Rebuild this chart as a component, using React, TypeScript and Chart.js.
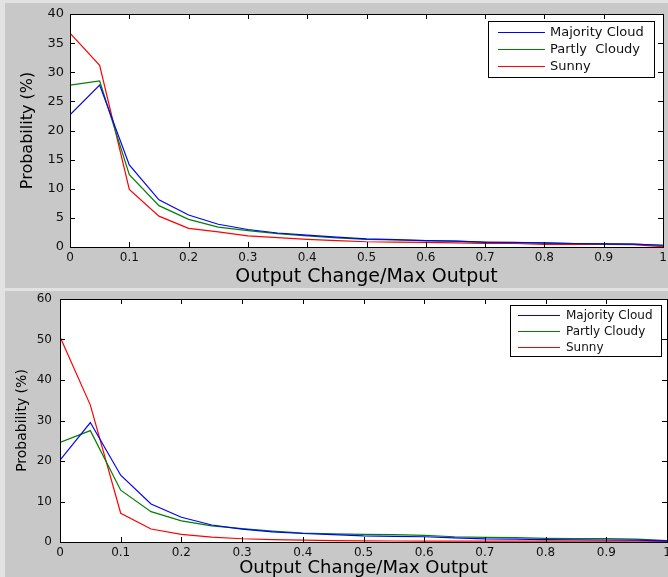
import React, { useEffect, useRef } from "react";
import { Chart, registerables } from "chart.js";

Chart.register(...registerables);

// ---------- data ----------
const xValues = [0, 0.05, 0.1, 0.15, 0.2, 0.25, 0.3, 0.35, 0.4, 0.45, 0.5, 0.55, 0.6, 0.65, 0.7, 0.75, 0.8, 0.85, 0.9, 0.95, 1];

const seriesLabelsTop = ["Majority Cloud", "Partly  Cloudy", "Sunny"];
const seriesLabelsBottom = ["Majority Cloud", "Partly Cloudy", "Sunny"];

const topMajorityCloud = [22.7, 27.8, 14.1, 8.1, 5.5, 3.9, 3.0, 2.4, 2.05, 1.7, 1.4, 1.25, 1.1, 1.0, 0.85, 0.8, 0.65, 0.6, 0.55, 0.5, 0.3];
const topPartlyCloudy = [27.8, 28.5, 12.4, 7.1, 4.75, 3.4, 2.8, 2.3, 1.9, 1.55, 1.3, 1.2, 1.1, 1.0, 0.8, 0.75, 0.75, 0.6, 0.55, 0.5, 0.3];
const topSunny = [36.7, 31.2, 9.9, 5.3, 3.2, 2.6, 1.9, 1.6, 1.3, 1.1, 0.9, 0.85, 0.8, 0.7, 0.63, 0.6, 0.46, 0.46, 0.46, 0.4, 0.05];

const bottomMajorityCloud = [20.2, 29.5, 16.5, 9.4, 6.1, 4.2, 3.2, 2.5, 2.1, 1.8, 1.5, 1.4, 1.3, 1.0, 0.75, 0.7, 0.57, 0.55, 0.5, 0.45, 0.3];
const bottomPartlyCloudy = [24.6, 27.5, 12.8, 7.5, 5.2, 4.0, 3.3, 2.7, 2.2, 2.0, 1.9, 1.8, 1.65, 1.3, 1.15, 1.1, 0.9, 0.85, 0.85, 0.7, 0.35];
const bottomSunny = [50.7, 33.8, 7.1, 3.2, 1.9, 1.2, 0.8, 0.6, 0.45, 0.35, 0.3, 0.25, 0.2, 0.2, 0.2, 0.2, 0.2, 0.2, 0.2, 0.2, 0.15];

const xAxisTitle = "Output Change/Max Output";
const yAxisTitle = "Probability (%)";

const seriesColors = ["rgb(0,0,255)", "rgb(0,128,0)", "rgb(255,0,0)"];
const FONT = '"DejaVu Sans", "Liberation Sans", sans-serif';

const tickFormat = (v: any) => String(parseFloat(Number(v).toFixed(2)));

// ---------- decoration plugin: white plot area, inward ticks, frame, boxed legend ----------
const matlabLook = {
  id: "matlabLook",
  beforeDraw(chart: any) {
    const ctx = chart.ctx;
    const a = chart.chartArea;
    ctx.save();
    ctx.fillStyle = "rgb(255,255,255)";
    ctx.fillRect(a.left, a.top, a.right - a.left, a.bottom - a.top);
    ctx.restore();
  },
  afterDatasetsDraw(chart: any) {
    const ctx = chart.ctx;
    const { left, right, top, bottom } = chart.chartArea;
    const xs = chart.scales.x;
    const ys = chart.scales.y;
    const len = 5;
    ctx.save();
    ctx.strokeStyle = "#000";
    ctx.lineWidth = 1;
    ctx.beginPath();
    xs.ticks.forEach((t: any) => {
      const px = Math.round(xs.getPixelForValue(t.value)) + 0.5;
      ctx.moveTo(px, bottom);
      ctx.lineTo(px, bottom - len);
      ctx.moveTo(px, top);
      ctx.lineTo(px, top + len);
    });
    ys.ticks.forEach((t: any) => {
      const py = Math.round(ys.getPixelForValue(t.value)) + 0.5;
      ctx.moveTo(left, py);
      ctx.lineTo(left + len, py);
      ctx.moveTo(right, py);
      ctx.lineTo(right - len, py);
    });
    ctx.stroke();
    ctx.strokeRect(Math.round(left) + 0.5, Math.round(top) + 0.5, Math.round(right - left), Math.round(bottom - top));
    ctx.restore();

    const opts = chart.options.plugins.boxLegend;
    if (!opts) return;
    const ds = chart.data.datasets;
    ctx.save();
    ctx.font = `${opts.fontSize}px ${FONT}`;
    const textW = Math.max(...ds.map((d: any) => ctx.measureText(d.label).width));
    const w = Math.round(opts.padLeft + opts.lineLen + opts.gap + textW + opts.padRight);
    const h = Math.round(opts.padTop + opts.rowH * (ds.length - 1) + opts.padBottom);
    const x = Math.round(right - opts.marginRight - w);
    const y = Math.round(top + opts.marginTop);
    ctx.fillStyle = "rgb(255,255,255)";
    ctx.fillRect(x, y, w, h);
    ctx.strokeStyle = "#000000";
    ctx.lineWidth = 1;
    ctx.strokeRect(x + 0.5, y + 0.5, w, h);
    for (let i = 0; i < ds.length; i++) {
      const cy = Math.round(y + opts.padTop + i * opts.rowH);
      ctx.fillStyle = ds[i].borderColor;
      ctx.fillRect(x + opts.padLeft, cy, opts.lineLen, 1);
      ctx.fillStyle = "#111111";
      ctx.textBaseline = "middle";
      ctx.textAlign = "left";
      ctx.fillText(ds[i].label, x + opts.padLeft + opts.lineLen + opts.gap, cy + 1);
    }
    ctx.restore();
  },
};

// ---------- chart component ----------
type PanelProps = {
  width: number;
  height: number;
  labels: string[];
  series: number[][];
  yMax: number;
  yStep: number;
  padding: { left: number; right: number; top: number; bottom: number };
  yAxisWidth: number;
  xAxisHeight: number;
  yTickFont: number;
  xTickFont: number;
  yTickPad: number;
  xTickPad: number;
  yTitleFont: number;
  yTitlePad: number;
  xTitleFont: number;
  xTitlePad: number;
  legend: any;
};

function Panel(p: PanelProps) {
  const ref = useRef<HTMLCanvasElement | null>(null);
  const bgRef = useRef<HTMLDivElement | null>(null);
  useEffect(() => {
    if (!ref.current) return;
    const chart = new Chart(ref.current, {
      type: "line",
      data: {
        datasets: p.series.map((s, i) => ({
          label: p.labels[i],
          data: xValues.map((x, j) => ({ x, y: s[j] })),
          borderColor: seriesColors[i],
          backgroundColor: seriesColors[i],
          borderWidth: 1.2,
          pointRadius: 0,
          tension: 0,
          fill: false,
        })),
      },
      options: {
        responsive: false,
        animation: false,
        devicePixelRatio: 1,
        layout: { padding: p.padding },
        plugins: {
          legend: { display: false },
          tooltip: { enabled: false },
          boxLegend: p.legend,
        } as any,
        scales: {
          x: {
            type: "linear",
            min: 0,
            max: 1,
            grid: { display: false, drawTicks: false },
            border: { display: false },
            ticks: {
              stepSize: 0.1,
              padding: p.xTickPad,
              color: "#111",
              font: { family: FONT, size: p.xTickFont },
              maxRotation: 0,
              autoSkip: false,
              callback: tickFormat,
            },
            title: {
              display: true,
              text: xAxisTitle,
              color: "#000",
              font: { family: FONT, size: p.xTitleFont, lineHeight: 1 },
              padding: { top: 0, bottom: p.xTitlePad },
            },
            afterFit: (scale: any) => {
              scale.height = p.xAxisHeight;
              scale.paddingLeft = 0;
              scale.paddingRight = 0;
            },
          },
          y: {
            type: "linear",
            min: 0,
            max: p.yMax,
            grid: { display: false, drawTicks: false },
            border: { display: false },
            ticks: {
              stepSize: p.yStep,
              padding: p.yTickPad,
              color: "#111",
              font: { family: FONT, size: p.yTickFont },
              callback: tickFormat,
            },
            title: {
              display: true,
              text: yAxisTitle,
              color: "#000",
              font: { family: FONT, size: p.yTitleFont, lineHeight: 1.2 },
              padding: { top: p.yTitlePad, bottom: 0 },
            },
            afterFit: (scale: any) => {
              scale.width = p.yAxisWidth;
              scale.paddingTop = 0;
              scale.paddingBottom = 0;
            },
          },
        },
      } as any,
      plugins: [matlabLook],
    });
    const a = chart.chartArea;
    if (bgRef.current && a) {
      const s = bgRef.current.style;
      s.left = a.left + "px";
      s.top = a.top + "px";
      s.width = a.right - a.left + "px";
      s.height = a.bottom - a.top + "px";
    }
    return () => chart.destroy();
  }, []);
  return (
    <div style={{ position: "relative", width: p.width, height: p.height }}>
      <div ref={bgRef} style={{ position: "absolute", left: 0, top: 0, width: 0, height: 0, background: "#ffffff" }} />
      <canvas ref={ref} width={p.width} height={p.height} style={{ display: "block", position: "relative" }} />
    </div>
  );
}

export default function App() {
  return (
    <div style={{ position: "fixed", left: 0, top: 0, width: 668, height: 577, background: "#e2e2e2", overflow: "hidden" }}>
      <div style={{ position: "absolute", left: 5, top: 3, width: 663, height: 285, background: "#c8c8c8" }} />
      <div style={{ position: "absolute", left: 5, top: 291, width: 663, height: 286, background: "#c8c8c8" }} />
      <div style={{ position: "absolute", left: 0, top: 0 }}>
        <Panel
          width={668}
          height={288}
          labels={seriesLabelsTop}
          series={[topMajorityCloud, topPartlyCloudy, topSunny]}
          yMax={40}
          yStep={5}
          padding={{ left: 0, right: 5, top: 14, bottom: 0 }}
          yAxisWidth={70}
          xAxisHeight={41}
          yTickFont={13}
          xTickFont={12}
          yTickPad={6}
          xTickPad={4}
          yTitleFont={16}
          yTitlePad={18}
          xTitleFont={19}
          xTitlePad={1}
          legend={{ fontSize: 13, padLeft: 10, lineLen: 47, gap: 5, padRight: 10, padTop: 11, rowH: 17, padBottom: 11, marginRight: 9, marginTop: 7 }}
        />
      </div>
      <div style={{ position: "absolute", left: 0, top: 290 }}>
        <Panel
          width={668}
          height={287}
          labels={seriesLabelsBottom}
          series={[bottomMajorityCloud, bottomPartlyCloudy, bottomSunny]}
          yMax={60}
          yStep={10}
          padding={{ left: 0, right: 1, top: 9, bottom: 0 }}
          yAxisWidth={60}
          xAxisHeight={35}
          yTickFont={12}
          xTickFont={12}
          yTickPad={8}
          xTickPad={4}
          yTitleFont={14}
          yTitlePad={14}
          xTitleFont={18}
          xTitlePad={0}
          legend={{ fontSize: 12, padLeft: 8, lineLen: 42, gap: 6, padRight: 8, padTop: 10, rowH: 16, padBottom: 9, marginRight: 6, marginTop: 6 }}
        />
      </div>
    </div>
  );
}
